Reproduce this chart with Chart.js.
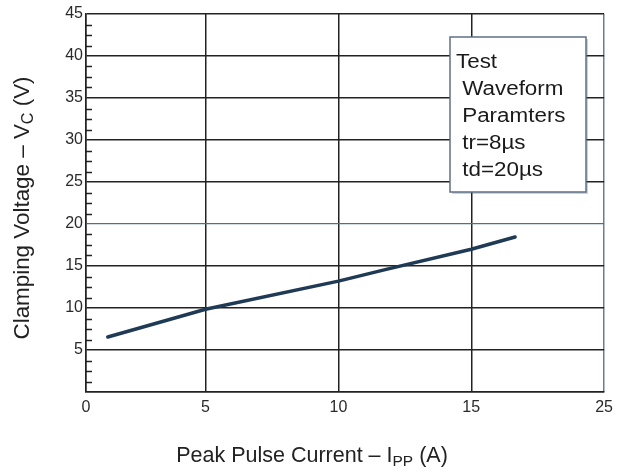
<!DOCTYPE html>
<html>
<head>
<meta charset="utf-8">
<script src="https://cdn.jsdelivr.net/npm/chart.js@4/dist/chart.umd.min.js"></script>
<style>
  body { margin: 0; background: #fff; }
  #wrap { width: 619px; height: 470px; }
</style>
</head>
<body>
<div id="wrap"><canvas id="myChart" width="619" height="470"></canvas></div>
<script>
// values
const currentA = [1.32, 5, 10, 11.8, 15, 16.65];
const clampV = [6.55, 9.85, 13.2, 14.6, 17.0, 18.45];
const xTickValues = [0.5, 5, 10, 15, 20];
const xTickLabels = ["0", "5", "10", "15", "25"];
const legendLines = ["Test", " Waveform", " Paramters", " tr=8\u00b5s", " td=20\u00b5s"];

const FONT = "'Liberation Sans', Arial, sans-serif";

// draws a string made of normal and subscript parts, centred on x
function drawParts(ctx, parts, size, x, y) {
    let total = 0;
    parts.forEach(p => {
        ctx.font = (p.sub ? size * 0.72 : size) + "px " + FONT;
        p.w = ctx.measureText(p.t).width;
        total += p.w;
    });
    let cx = x - total / 2;
    parts.forEach(p => {
        ctx.font = (p.sub ? size * 0.72 : size) + "px " + FONT;
        ctx.fillText(p.t, cx, p.sub ? y + size * 0.18 : y);
        cx += p.w;
    });
}

const extras = {
    id: "extras",
    afterDraw(chart) {
        const ctx = chart.ctx;
        const xs = chart.scales.x, ys = chart.scales.y;
        ctx.save();

        // minor ticks inside the left axis, 3 between majors
        ctx.strokeStyle = "#222";
        ctx.lineWidth = 1.5;
        for (let m = 0; m < 45; m += 5) {
            for (let k = 1; k < 4; k++) {
                const py = Math.round(ys.getPixelForValue(m + k * 1.25)) + 0.5;
                ctx.beginPath();
                ctx.moveTo(xs.left, py);
                ctx.lineTo(xs.left + 6, py);
                ctx.stroke();
            }
        }

        // legend box
        const bx = 450, by = 37, bw = 136, bh = 155;
        ctx.fillStyle = "rgba(60,70,90,0.25)";
        ctx.fillRect(bx + 2, by + 2, bw, bh);
        ctx.fillStyle = "#fff";
        ctx.fillRect(bx, by, bw, bh);
        ctx.strokeStyle = "#5d7087";
        ctx.lineWidth = 1.5;
        ctx.strokeRect(bx, by, bw, bh);
        ctx.fillStyle = "#1a1a1a";
        ctx.font = "20px " + FONT;
        ctx.textBaseline = "alphabetic";
        legendLines.forEach((t, i) => {
            ctx.save();
            ctx.translate(bx + 6, by + 31 + i * 27);
            ctx.scale(1.12, 1);
            ctx.fillText(t, 0, 0);
            ctx.restore();
        });

        // axis titles with subscripts
        ctx.fillStyle = "#222";
        drawParts(ctx, [{ t: "Peak Pulse Current \u2013 I" }, { t: "PP", sub: true }, { t: " (A)" }], 21.5, 312, 462);

        ctx.translate(29, 208);
        ctx.rotate(-Math.PI / 2);
        drawParts(ctx, [{ t: "Clamping Voltage \u2013 V" }, { t: "C", sub: true }, { t: " (V)" }], 22.4, 0, 0);
        ctx.restore();
    }
};

const ctx = document.getElementById("myChart").getContext("2d");
new Chart(ctx, {
    type: "line",
    data: {
        datasets: [{
            data: currentA.map((x, i) => ({ x: x, y: clampV[i] })),
            borderColor: "#1f3a55",
            borderWidth: 3.5,
            borderCapStyle: "round",
            pointRadius: 0,
            tension: 0,
            fill: false
        }]
    },
    options: {
        responsive: false,
        animation: false,
        layout: { padding: { top: 14, right: 13, left: 0, bottom: 0 } },
        plugins: { legend: { display: false }, tooltip: { enabled: false } },
        scales: {
            x: {
                type: "linear",
                min: xTickValues[0],
                max: 20,
                afterFit(scale) { scale.height = 78; },
                afterBuildTicks(scale) {
                    scale.ticks = xTickValues.map(v => ({ value: v }));
                },
                ticks: {
                    padding: 6,
                    color: "#2a2a2a",
                    font: { family: FONT, size: 16 },
                    callback: (v, i) => xTickLabels[i]
                },
                grid: {
                    drawTicks: false,
                    lineWidth: 1.5,
                    color: c => c.tick && c.tick.value === 20 ? "#6a7f95" : "#222"
                },
                border: { color: "#222", width: 1.5 }
            },
            y: {
                min: 0,
                max: 45,
                afterFit(scale) { scale.width = 86; },
                ticks: {
                    stepSize: 5,
                    padding: 3,
                    color: "#2a2a2a",
                    font: { family: FONT, size: 16 },
                    callback: v => v === 0 ? "" : v
                },
                grid: {
                    drawTicks: false,
                    lineWidth: c => c.tick && c.tick.value === 20 ? 1.2 : 1.5,
                    color: c => c.tick && c.tick.value === 20 ? "#4f6f8f" : "#222"
                },
                border: { color: "#222", width: 1.5 }
            }
        }
    },
    plugins: [extras]
});
</script>
</body>
</html>
